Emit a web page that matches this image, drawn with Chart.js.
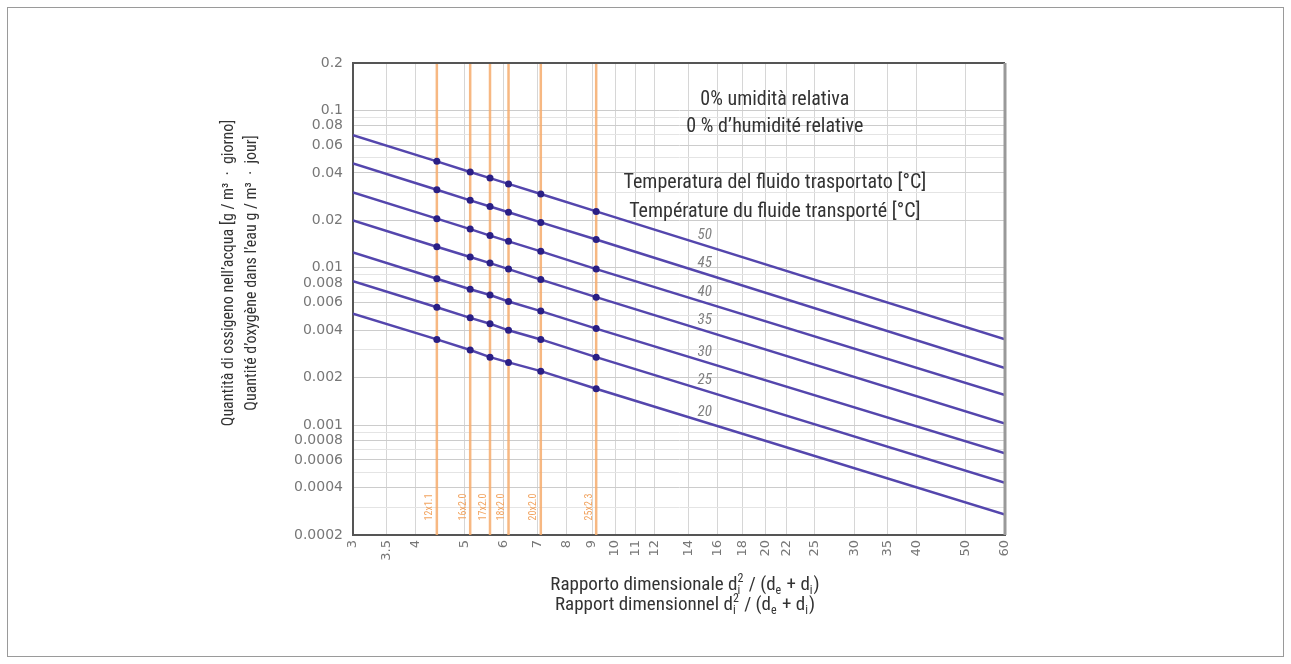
<!DOCTYPE html>
<html>
<head>
<meta charset="utf-8">
<script src="https://cdn.jsdelivr.net/npm/chart.js@4/dist/chart.umd.min.js"></script>
<style>
  html, body { margin: 0; padding: 0; background: #fff; }
  #box { position: absolute; left: 7px; top: 7px; width: 1275px; height: 648px; border: 1px solid #9a9a9a; }
  canvas { display: block; }
</style>
</head>
<body>
<div id="box"><canvas id="myChart" width="1275" height="648"></canvas></div>
<script>
// datos (escala log-log)
const ratioX = [3, 4.41, 5.14, 5.63, 6.13, 7.11, 9.17, 60];
const temps = ['50', '45', '40', '35', '30', '25', '20'];
const o2_50 = [0.0696, 0.0474, 0.0406, 0.0371, 0.0341, 0.0294, 0.0228, 0.0035];
const o2_45 = [0.0460, 0.0313, 0.0268, 0.0245, 0.0225, 0.0194, 0.0151, 0.0023];
const o2_40 = [0.0301, 0.0205, 0.0176, 0.0160, 0.0147, 0.0127, 0.0098, 0.00155];
const o2_35 = [0.0200, 0.0136, 0.0117, 0.0107, 0.0098, 0.0084, 0.0065, 0.00102];
const o2_30 = [0.0125, 0.0085, 0.0073, 0.0067, 0.0061, 0.0053, 0.0041, 0.00066];
const o2_25 = [0.0082, 0.0056, 0.0048, 0.0044, 0.0040, 0.0035, 0.0027, 0.00043];
const o2_20 = [0.0051, 0.0035, 0.0030, 0.0027, 0.0025, 0.0022, 0.0017, 0.00027];
const series = [o2_50, o2_45, o2_40, o2_35, o2_30, o2_25, o2_20];

// tubos (lineas naranjas)
const pipeX = [4.41, 5.14, 5.63, 6.13, 7.11, 9.17];
const pipeLabels = ['12x1.1', '16x2.0', '17x2.0', '18x2.0', '20x2.0', '25x2.3'];

// ticks
const xTicks = [3, 3.5, 4, 5, 6, 7, 8, 9, 10, 11, 12, 14, 16, 18, 20, 22, 25, 30, 35, 40, 50, 60];
const yTicks = [0.0002, 0.0003, 0.0004, 0.0005, 0.0006, 0.0007, 0.0008, 0.0009,
  0.001, 0.002, 0.003, 0.004, 0.005, 0.006, 0.007, 0.008, 0.009,
  0.01, 0.02, 0.03, 0.04, 0.05, 0.06, 0.07, 0.08, 0.09, 0.1, 0.2];
const yLabelled = [0.0002, 0.0004, 0.0006, 0.0008, 0.001, 0.002, 0.004, 0.006, 0.008,
  0.01, 0.02, 0.04, 0.06, 0.08, 0.1, 0.2];
const tempLabelAt = 15.1;

const yMin = 0.0002, yMax = 0.2;
const fontNarrow = "'Liberation Sans Narrow', 'Roboto Condensed', 'DejaVu Sans Condensed', Roboto, sans-serif";
const fontTicks = "'DejaVu Sans', Verdana, sans-serif";

const datasets = [];
series.forEach((s, i) => {
  datasets.push({
    label: temps[i],
    data: ratioX.map((x, j) => ({ x: x, y: s[j] })),
    showLine: true,
    borderColor: '#5446ad',
    borderWidth: 2.5,
    pointRadius: ratioX.map((x, j) => (j === 0 || j === ratioX.length - 1) ? 0 : 3.5),
    pointBackgroundColor: '#2a1f85',
    pointBorderWidth: 0,
    order: 1
  });
});
pipeX.forEach((x, i) => {
  datasets.push({
    label: pipeLabels[i],
    data: [{ x: x, y: yMin }, { x: x, y: yMax }],
    showLine: true,
    borderColor: 'rgba(246, 172, 108, 0.85)',
    borderWidth: 2.5,
    pointRadius: 0,
    order: 2
  });
});

// texto con subindices / superindices (d_i^2 etc.)
function drawRich(ctx, parts, cx, cy, size, family) {
  const small = Math.round(size * 0.62);
  let total = 0;
  parts.forEach(p => {
    if (p.sub !== undefined || p.sup !== undefined) {
      ctx.font = small + 'px ' + family;
      p.w = Math.max(ctx.measureText(p.sub || '').width, ctx.measureText(p.sup || '').width) + 1;
    } else {
      ctx.font = size + 'px ' + family;
      p.w = ctx.measureText(p.t).width;
    }
    total += p.w;
  });
  let x = cx - total / 2;
  ctx.textAlign = 'left';
  ctx.textBaseline = 'alphabetic';
  const base = cy + size * 0.35;
  parts.forEach(p => {
    if (p.sub !== undefined || p.sup !== undefined) {
      ctx.font = small + 'px ' + family;
      if (p.sub) ctx.fillText(p.sub, x, base + size * 0.25);
      if (p.sup) ctx.fillText(p.sup, x, base - size * 0.38);
    } else {
      ctx.font = size + 'px ' + family;
      ctx.fillText(p.t, x, base);
    }
    x += p.w;
  });
}

const xTitle1 = [{ t: 'Rapporto dimensionale d' }, { sub: 'i', sup: '2' }, { t: ' / (d' }, { sub: 'e' }, { t: ' + d' }, { sub: 'i' }, { t: ')' }];
const xTitle2 = [{ t: 'Rapport dimensionnel d' }, { sub: 'i', sup: '2' }, { t: ' / (d' }, { sub: 'e' }, { t: ' + d' }, { sub: 'i' }, { t: ')' }];
const yTitle1 = 'Quantità di ossigeno nell\u2019acqua [g / m\u00B3  \u00B7  giorno]';
const yTitle2 = 'Quantité d\u2019oxygène dans l\u2019eau g / m\u00B3  \u00B7  jour]';

// textos extra: marco, etiquetas de temperatura, tubos, notas, titulos
const extras = {
  id: 'extras',
  afterDatasetsDraw(chart) {
    const { ctx, chartArea: a, scales: { x, y } } = chart;
    ctx.save();
    // marco superior y derecho
    ctx.strokeStyle = '#555';
    ctx.lineWidth = 2;
    ctx.beginPath();
    ctx.moveTo(a.left, a.top); ctx.lineTo(a.right, a.top);
    ctx.stroke();
    ctx.strokeStyle = '#999';
    ctx.lineWidth = 3;
    ctx.beginPath();
    ctx.moveTo(a.right, a.top); ctx.lineTo(a.right, a.bottom);
    ctx.stroke();

    // etiquetas de tubos
    ctx.fillStyle = '#f2a460';
    ctx.font = '10px ' + fontNarrow;
    ctx.textAlign = 'center';
    ctx.textBaseline = 'middle';
    pipeX.forEach((v, i) => {
      const px = x.getPixelForValue(v) - 7;
      ctx.save();
      ctx.translate(px, a.bottom - 28);
      ctx.rotate(-Math.PI / 2);
      ctx.fillText(pipeLabels[i], 0, 0);
      ctx.restore();
    });

    // etiquetas de temperatura sobre cada linea
    ctx.fillStyle = '#808080';
    ctx.font = 'italic 15px ' + fontNarrow;
    const n = ratioX.length;
    const lx0 = Math.log(ratioX[n - 2]), lx1 = Math.log(ratioX[n - 1]);
    const t = (Math.log(tempLabelAt) - lx0) / (lx1 - lx0);
    series.forEach((s, i) => {
      const v = Math.exp(Math.log(s[n - 2]) + t * (Math.log(s[n - 1]) - Math.log(s[n - 2])));
      ctx.fillText(temps[i], x.getPixelForValue(tempLabelAt), y.getPixelForValue(v) - 10);
    });

    // notas
    ctx.fillStyle = '#333';
    ctx.font = '20px ' + fontNarrow;
    const cx = a.left + (a.right - a.left) * 0.647;
    const ty = (f) => a.top + (a.bottom - a.top) * f;
    ctx.fillText('0% umidità relativa', cx, ty(0.078));
    ctx.fillText('0 % d\u2019humidité relative', cx, ty(0.136));
    ctx.fillText('Temperatura del fluido trasportato [°C]', cx, ty(0.254));
    ctx.fillText('Température du fluide transporté [°C]', cx, ty(0.315));

    // titulo eje x
    ctx.fillStyle = '#333';
    const xc = (a.left + a.right) / 2 + 6;
    drawRich(ctx, xTitle1, xc, a.bottom + 48, 19, fontNarrow);
    drawRich(ctx, xTitle2, xc, a.bottom + 68, 19, fontNarrow);

    // titulo eje y
    ctx.font = '16px ' + fontNarrow;
    ctx.textAlign = 'center';
    ctx.textBaseline = 'middle';
    const yc = (a.top + a.bottom) / 2 - 26;
    [[yTitle1, a.left - 124], [yTitle2, a.left - 101]].forEach(([txt, px]) => {
      ctx.save();
      ctx.translate(px, yc);
      ctx.rotate(-Math.PI / 2);
      ctx.fillText(txt, 0, 0);
      ctx.restore();
    });
    ctx.restore();
  }
};

const ctx = document.getElementById('myChart').getContext('2d');

new Chart(ctx, {
  type: 'scatter',
  data: { datasets: datasets },
  plugins: [extras],
  options: {
    responsive: false,
    animation: false,
    layout: { padding: { left: 194, right: 278, top: 55, bottom: 41 } },
    plugins: {
      legend: { display: false },
      tooltip: { enabled: false }
    },
    scales: {
      x: {
        type: 'logarithmic',
        min: 3,
        max: 60,
        afterBuildTicks: (s) => { s.ticks = xTicks.map(v => ({ value: v })); },
        afterFit: (s) => { s.height = 80; },
        border: { color: '#555', width: 2 },
        grid: { color: '#d6d6d6', drawTicks: false },
        ticks: {
          autoSkip: false,
          minRotation: 90,
          maxRotation: 90,
          padding: 5,
          color: '#777',
          font: { family: fontTicks, size: 13 },
          callback: (v) => String(v)
        }
      },
      y: {
        type: 'logarithmic',
        min: yMin,
        max: yMax,
        afterBuildTicks: (s) => { s.ticks = yTicks.map(v => ({ value: v })); },
        afterFit: (s) => { s.width = 151; },
        border: { color: '#555', width: 2 },
        grid: {
          drawTicks: false,
          color: (c) => yLabelled.includes(c.tick && c.tick.value) ? '#cccccc' : '#e4e4e4'
        },
        ticks: {
          autoSkip: false,
          padding: 10,
          color: '#777',
          font: { family: fontTicks, size: 14 },
          callback: (v) => yLabelled.includes(v) ? String(v) : ''
        }
      }
    }
  }
});
</script>
</body>
</html>
